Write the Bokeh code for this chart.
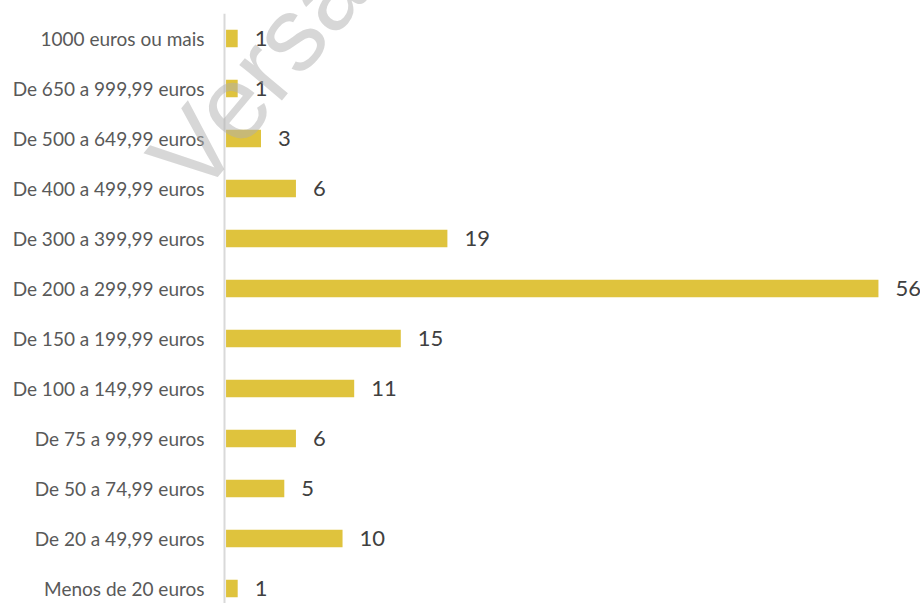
from bokeh.plotting import figure
from bokeh.models import ColumnDataSource, Range1d, FixedTicker
from bokeh.core.properties import value
from bokeh.embed import file_html
from bokeh.resources import INLINE

# Categories listed from top to bottom, as in the chart
categories = [
    "1000 euros ou mais",
    "De 650 a 999,99 euros",
    "De 500 a 649,99 euros",
    "De 400 a 499,99 euros",
    "De 300 a 399,99 euros",
    "De 200 a 299,99 euros",
    "De 150 a 199,99 euros",
    "De 100 a 149,99 euros",
    "De 75 a 99,99 euros",
    "De 50 a 74,99 euros",
    "De 20 a 49,99 euros",
    "Menos de 20 euros",
]
values = [1, 1, 3, 6, 19, 56, 15, 11, 6, 5, 10, 1]
watermark = "Versão preliminar"

n = len(categories)
ypos = [n - 1 - i for i in range(n)]

source = ColumnDataSource(dict(
    y=ypos,
    v=values,
    lab=[str(v) for v in values],
))

p = figure(
    width=920, height=603,
    x_range=Range1d(-19.36, 59.61),
    y_range=Range1d(-0.3, 11.5),
    output_backend="svg", toolbar_location=None,
    min_border_left=0, min_border_right=0,
    min_border_top=13, min_border_bottom=0,
)
p.outline_line_color = None
p.grid.visible = False
p.xaxis.visible = False
p.background_fill_color = "white"
p.border_fill_color = "white"

p.hbar(y="y", left=0, right="v", height=0.35, source=source,
       fill_color="#DFC33D", line_color=None)

p.text(x="v", y="y", text="lab", source=source, x_offset=17,
       text_baseline="middle", text_align="left",
       text_font=value("Lato"), text_font_size="22px", text_color="#404040")

ax = p.yaxis[0]
ax.fixed_location = -0.13
ax.ticker = FixedTicker(ticks=ypos)
ax.major_label_overrides = {y: c for y, c in zip(ypos, categories)}
ax.major_tick_line_color = None
ax.minor_tick_line_color = None
ax.major_tick_out = 0
ax.major_tick_in = 0
ax.axis_line_color = "#d9d9d9"
ax.axis_line_width = 2
ax.major_label_standoff = 20
ax.major_label_text_font = "Lato"
ax.major_label_text_font_size = "19px"
ax.major_label_text_color = "#595959"

wm = p.text(x=[-4.77], y=[8.24], text=[watermark], angle=50, angle_units="deg",
            text_font=value("Liberation Sans"), text_font_size="105px",
            text_color="#b0b0b0",
            text_alpha=0.5, text_baseline="alphabetic", text_align="left",
            level="overlay")

open("out.html", "w").write(file_html(p, INLINE))
